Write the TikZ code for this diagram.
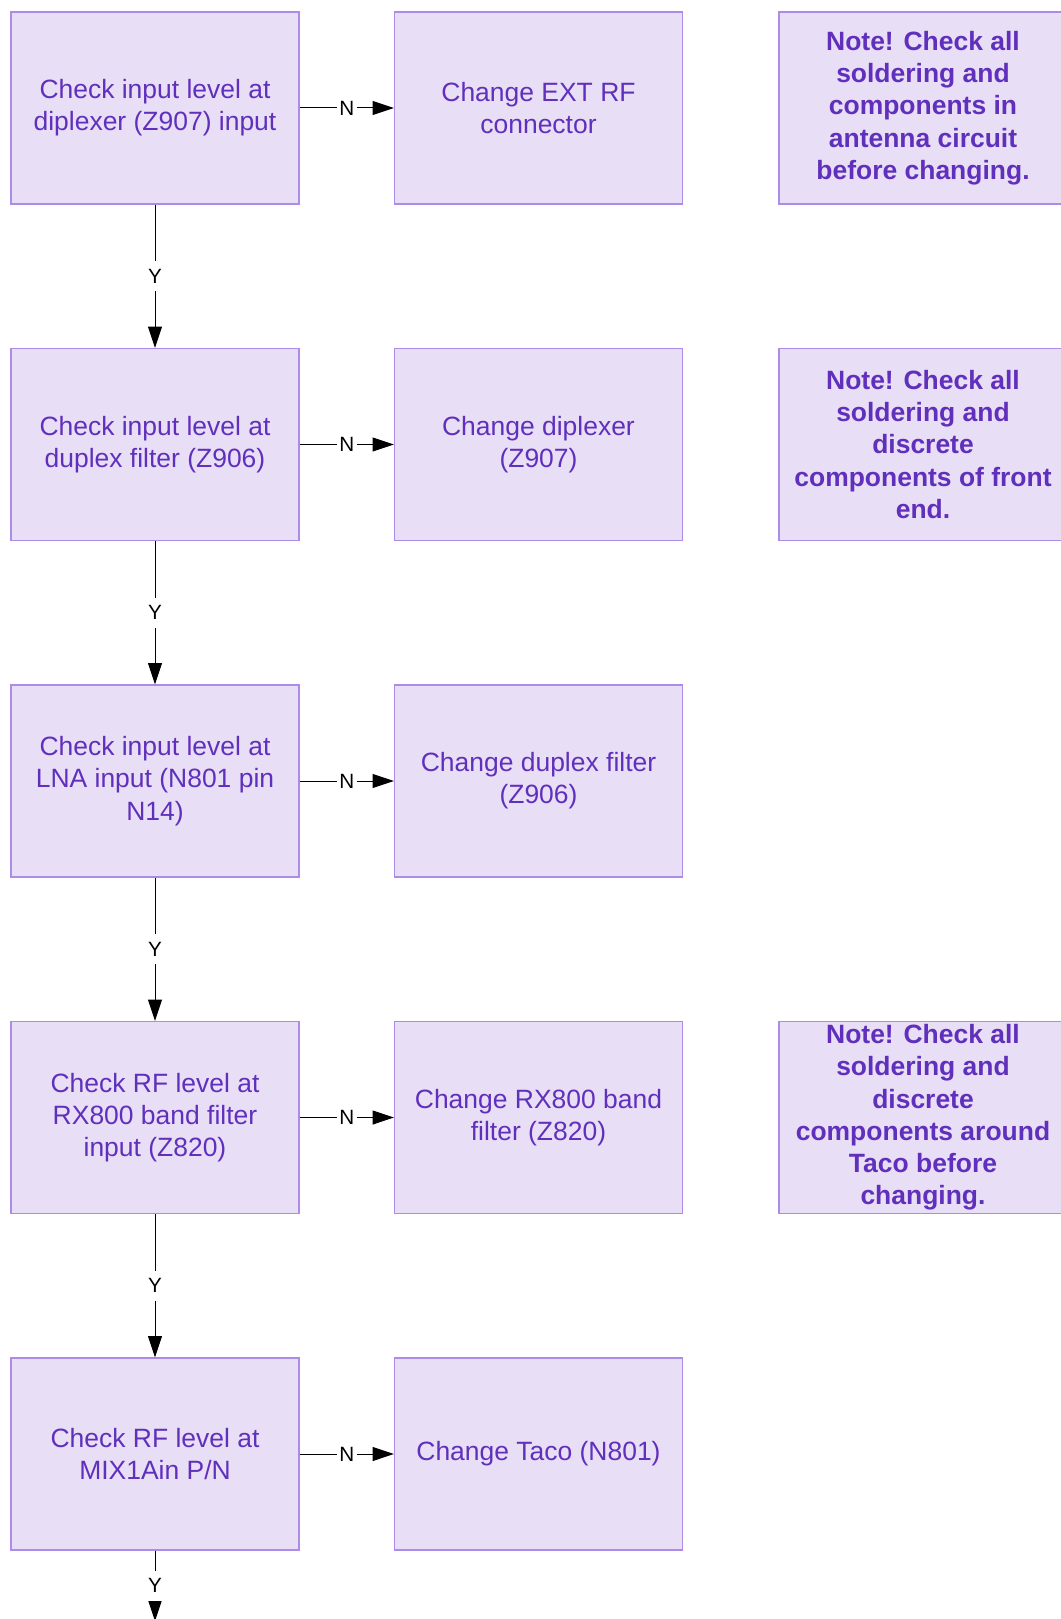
\documentclass[tikz,border=0pt]{standalone}
\usepackage{fontspec}
\setmainfont{Liberation Sans}
\usetikzlibrary{arrows.meta}
\definecolor{boxfill}{RGB}{232,222,246}
\definecolor{boxline}{RGB}{172,140,232}
\definecolor{boxtext}{RGB}{96,48,188}
\begin{document}
\begin{tikzpicture}[x=0.75pt,y=-0.75pt,
  box/.style={draw=boxline, fill=boxfill, line width=0.9pt, minimum width=216pt, minimum height=144pt, inner sep=0pt, align=center, text=boxtext, font=\fontsize{19.85}{24.2}\selectfont},
  note/.style={box, font=\fontsize{19.85}{24.2}\selectfont\bfseries},
  conn/.style={line width=0.75pt, -{Triangle[length=16pt,width=10.5pt]}},
  lbl/.style={fill=white, inner xsep=2pt, inner ysep=6pt, font=\fontsize{15.5}{18}\selectfont, text=black}
]
\fill[white] (0,0) rectangle (1060,1619);
\useasboundingbox (0,0) rectangle (1060,1619);

% column 1
\node[box] (a1) at (155,108) {Check input level at\\diplexer (Z907) input};
\node[box] (a2) at (155,444.5) {Check input level at\\duplex filter (Z906)};
\node[box] (a3) at (155,781) {Check input level at\\LNA input (N801 pin\\N14)};
\node[box] (a4) at (155,1117.5) {Check RF level at\\RX800 band filter\\input (Z820)};
\node[box] (a5) at (155,1454) {Check RF level at\\MIX1Ain P/N};

% column 2
\node[box] (b1) at (538.5,108) {Change EXT RF\\connector};
\node[box] (b2) at (538.5,444.5) {Change diplexer\\(Z907)};
\node[box] (b3) at (538.5,781) {Change duplex filter\\(Z906)};
\node[box] (b4) at (538.5,1117.5) {Change RX800 band\\filter (Z820)};
\node[box] (b5) at (538.5,1454) {Change Taco (N801)};

% column 3 (notes)
\node[note] (n1) at (923,108) {Note! Check all\\soldering and\\components in\\antenna circuit\\before changing.};
\node[note] (n2) at (923,444.5) {Note! Check all\\soldering and\\discrete\\components of front\\end.};
\node[note] (n4) at (923,1117.5) {Note! Check all\\soldering and\\discrete\\components around\\Taco before\\changing.};

\coordinate (end) at (155,1621);

% Y connectors
\draw[conn] (a1) -- node[lbl]{Y} (a2);
\draw[conn] (a2) -- node[lbl]{Y} (a3);
\draw[conn] (a3) -- node[lbl]{Y} (a4);
\draw[conn] (a4) -- node[lbl]{Y} (a5);
\draw[conn] (a5) -- node[lbl]{Y} (end);

% N connectors
\draw[conn] (a1) -- node[lbl]{N} (b1);
\draw[conn] (a2) -- node[lbl]{N} (b2);
\draw[conn] (a3) -- node[lbl]{N} (b3);
\draw[conn] (a4) -- node[lbl]{N} (b4);
\draw[conn] (a5) -- node[lbl]{N} (b5);
\end{tikzpicture}
\end{document}
